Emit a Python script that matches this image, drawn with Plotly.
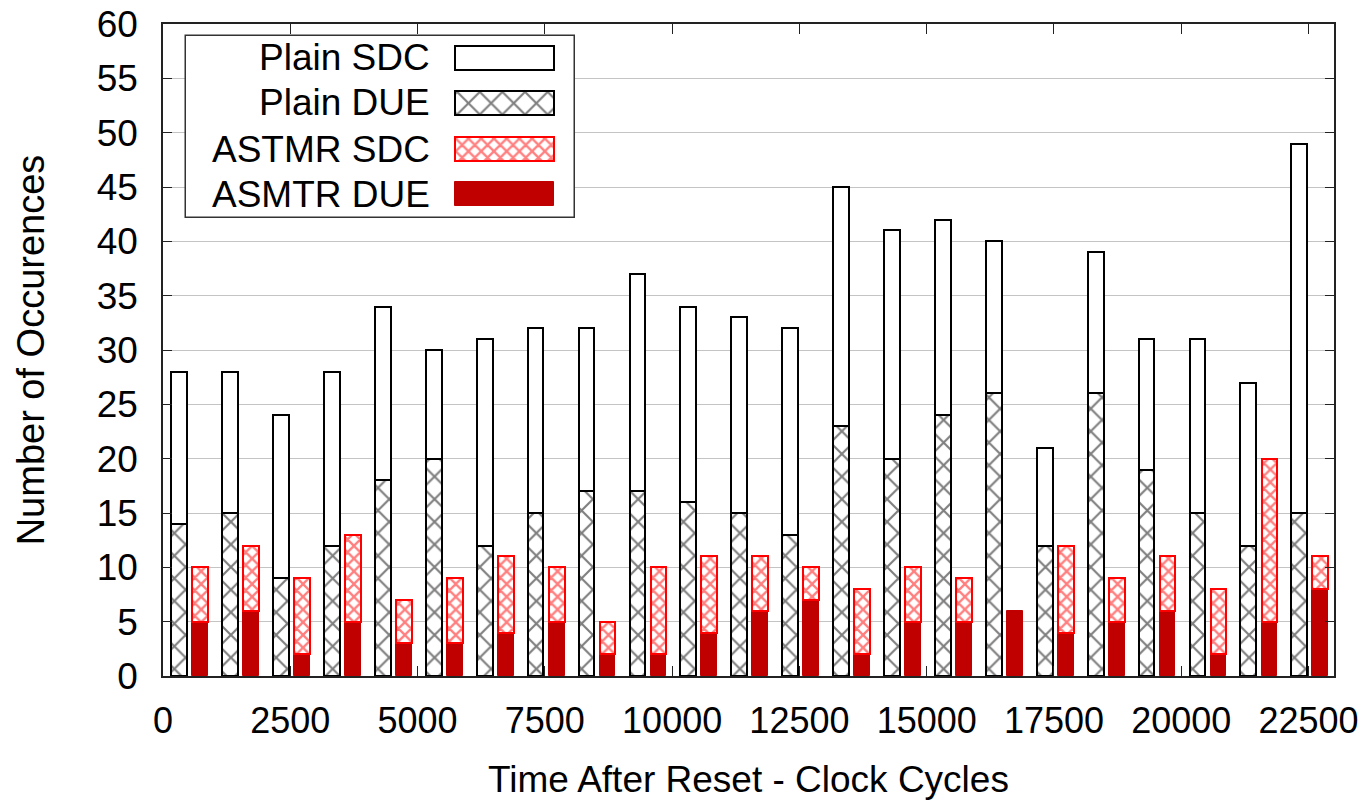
import plotly.graph_objects as go

# ---------------- data ----------------
time_cycles = [0, 1000, 2000, 3000, 4000, 5000, 6000, 7000, 8000, 9000, 10000, 11000,
               12000, 13000, 14000, 15000, 16000, 17000, 18000, 19000, 20000, 21000, 22000]
plain_due = [14, 15, 9, 12, 18, 20, 12, 15, 17, 17, 16, 15, 13, 23, 20, 24, 26, 12, 26, 19, 15, 12, 15]
plain_sdc = [14, 13, 15, 16, 16, 10, 19, 17, 15, 20, 18, 18, 19, 22, 21, 18, 14, 9, 13, 12, 16, 15, 34]
astmr_due = [5, 6, 2, 5, 3, 3, 4, 5, 2, 2, 4, 6, 7, 2, 5, 5, 6, 4, 5, 6, 2, 5, 8]
astmr_sdc = [5, 6, 7, 8, 4, 6, 7, 5, 3, 8, 7, 5, 3, 6, 5, 4, 0, 8, 4, 5, 6, 15, 3]
series_names = ["Plain SDC", "Plain DUE", "ASTMR SDC", "ASMTR DUE"]
x_tick_values = [0, 2500, 5000, 7500, 10000, 12500, 15000, 17500, 20000, 22500]
y_tick_values = [0, 5, 10, 15, 20, 25, 30, 35, 40, 45, 50, 55, 60]

# ---------------- styles ----------------
FONT = "Liberation Sans, Arial, sans-serif"
DARK_RED = "#c00000"
RED = "#ff0000"
BAR_W = 310
OFF_PLAIN = 318
OFF_ASTMR = 731

styles = {
    "Plain SDC": dict(color="white", line=dict(color="black", width=2)),
    "Plain DUE": dict(color="white", line=dict(color="black", width=2),
                      pattern=dict(shape="x", fgcolor="black", bgcolor="white", size=16, solidity=0.25)),
    "ASTMR SDC": dict(color="white", line=dict(color=RED, width=2),
                      pattern=dict(shape="x", fgcolor=RED, bgcolor="white", size=9, solidity=0.45)),
    "ASMTR DUE": dict(color=DARK_RED, line=dict(color=DARK_RED, width=1)),
}

x_plain = [t + OFF_PLAIN for t in time_cycles]
x_astmr = [t + OFF_ASTMR for t in time_cycles]

fig = go.Figure()
fig.add_trace(go.Bar(x=x_plain, y=plain_due, name=series_names[1], width=BAR_W,
                     marker=styles["Plain DUE"], showlegend=False))
fig.add_trace(go.Bar(x=x_plain, y=plain_sdc, base=plain_due, name=series_names[0], width=BAR_W,
                     marker=styles["Plain SDC"], showlegend=False))
fig.add_trace(go.Bar(x=x_astmr, y=astmr_due, name=series_names[3], width=BAR_W,
                     marker=styles["ASMTR DUE"], showlegend=False))
fig.add_trace(go.Bar(x=x_astmr, y=[v if v else None for v in astmr_sdc], base=astmr_due,
                     name=series_names[2], width=BAR_W,
                     marker=styles["ASTMR SDC"], showlegend=False))

# ---------------- custom legend (paper-unit overlay axes) ----------------
box_x0, box_x1, box_y0, box_y1 = 0.0196, 0.3518, 0.7025, 0.9816
row_y = [0.948, 0.879, 0.808, 0.739]
sw_x0, sw_w, sw_h = 0.2494, 0.0845, 0.0368
text_x = 0.2297

# legend frame
fig.add_trace(go.Bar(x=[box_x1 - box_x0], base=[box_x0], y=[(box_y0 + box_y1) / 2],
                     width=box_y1 - box_y0, orientation="h", xaxis="x2", yaxis="y2",
                     marker=dict(color="white", line=dict(color="#333333", width=1.5)),
                     hoverinfo="skip", showlegend=False))
for name, ry in zip(series_names, row_y):
    fig.add_trace(go.Bar(x=[sw_w], base=[sw_x0], y=[ry], width=sw_h, orientation="h",
                         xaxis="x2", yaxis="y2", marker=styles[name],
                         hoverinfo="skip", showlegend=False))
    fig.add_annotation(x=text_x, y=ry, xref="paper", yref="paper", text=name,
                       showarrow=False, xanchor="right", yanchor="middle",
                       font=dict(family=FONT, size=37, color="black"))

fig.update_layout(
    width=1371, height=805,
    margin=dict(l=163, r=37, t=24, b=129),
    paper_bgcolor="white", plot_bgcolor="white",
    barmode="overlay", bargap=0,
    font=dict(family=FONT, size=37, color="black"),
    xaxis=dict(range=[0, 23000], tickvals=x_tick_values, ticktext=[str(v) for v in x_tick_values],
               automargin=False, ticklabeloverflow="allow",
               showgrid=False, zeroline=False, showline=True, linecolor="#222222", linewidth=1.5,
               mirror="ticks", ticks="inside", ticklen=10, tickcolor="#222222", tickwidth=1.2,
               ticklabelstandoff=12,
               tickfont=dict(family=FONT, size=36),
               title=dict(text="Time After Reset - Clock Cycles", standoff=26,
                          font=dict(family=FONT, size=37))),
    yaxis=dict(range=[0, 60], tickvals=y_tick_values, automargin=False, ticklabeloverflow="allow",
               showgrid=True, gridcolor="#c4c4c4", gridwidth=1.2, zeroline=False,
               showline=True, linecolor="#222222", linewidth=1.5,
               mirror="ticks", ticks="inside", ticklen=9, tickcolor="#222222", tickwidth=1.2,
               ticklabelstandoff=16,
               tickfont=dict(family=FONT, size=37),
               title=dict(text="Number of Occurences", standoff=40,
                          font=dict(family=FONT, size=38))),
    xaxis2=dict(overlaying="x", range=[0, 1], visible=False, fixedrange=True, automargin=False),
    yaxis2=dict(overlaying="y", range=[0, 1], visible=False, fixedrange=True, automargin=False),
)

# remove the default 8px page margin so the figure fills the window exactly
fig.write_html("out.html", config={"displayModeBar": False},
               post_script="document.body.style.margin='0';")
